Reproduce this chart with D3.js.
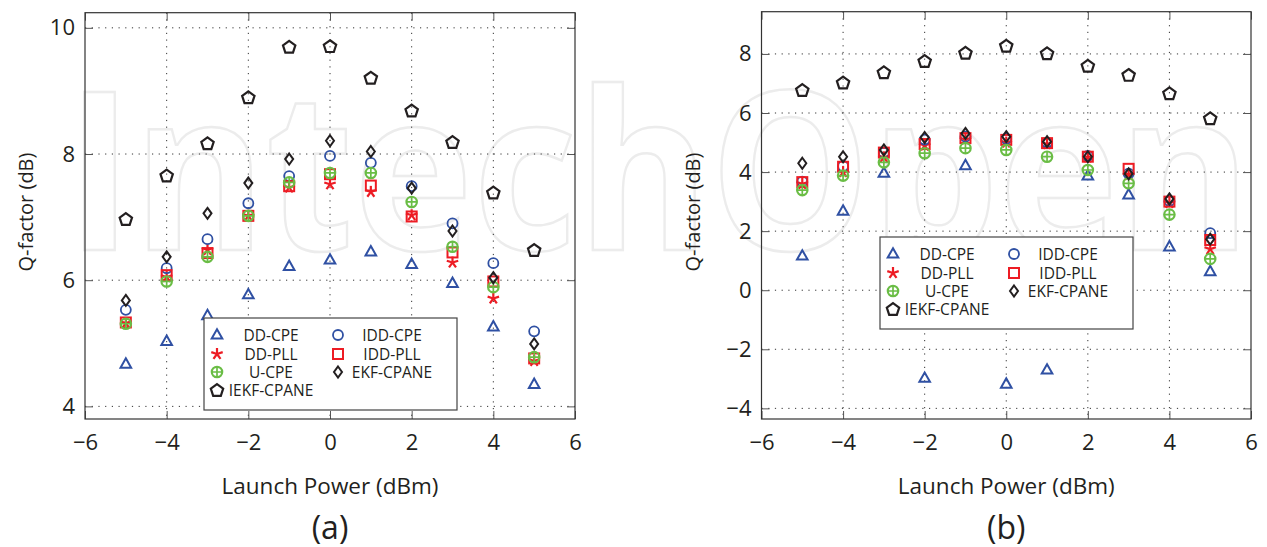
<!DOCTYPE html>
<html>
<head>
<meta charset="utf-8">
<script src="https://cdn.jsdelivr.net/npm/d3@7"></script>
<style>
  body { margin: 0; background: #fff; }
  text { font-family: "Open Sans", sans-serif; fill: #231f20; }
</style>
</head>
<body>
<div id="chart"></div>
<script>
const width = 1267;
const height = 547;

// launch power values (dBm)
const powers = [-5, -4, -3, -2, -1, 0, 1, 2, 3, 4, 5];
const xTicks = [-6, -4, -2, 0, 2, 4, 6];

// panel (a) Q-factor (dB)
const aTicks = [4, 6, 8, 10];
const aDDCPE = [4.67, 5.03, 5.44, 5.77, 6.22, 6.32, 6.45, 6.25, 5.95, 5.26, 4.35];
const aDDPLL = [5.32, 6.05, 6.48, 7.02, 7.47, 7.52, 7.40, 7.03, 6.28, 5.71, 4.72];
const aUCPE = [5.31, 5.98, 6.37, 7.02, 7.55, 7.70, 7.70, 7.24, 6.53, 5.89, 4.78];
const aIDDCPE = [5.53, 6.19, 6.65, 7.22, 7.65, 7.97, 7.86, 7.49, 6.90, 6.27, 5.19];
const aIDDPLL = [5.33, 6.08, 6.43, 7.02, 7.49, 7.68, 7.50, 7.01, 6.44, 5.98, 4.76];
const aEKF = [5.68, 6.37, 7.06, 7.54, 7.92, 8.21, 8.04, 7.46, 6.78, 6.04, 4.99];
const aIEKF = [6.97, 7.66, 8.17, 8.90, 9.70, 9.71, 9.21, 8.69, 8.19, 7.39, 6.48];

// panel (b) Q-factor (dB)
const bTicks = [-4, -2, 0, 2, 4, 6, 8];
const bDDCPE = [1.16, 2.68, 3.96, -2.98, 4.22, -3.18, -2.70, 3.87, 3.23, 1.47, 0.63];
const bDDPLL = [3.60, 4.00, 4.50, 4.90, 5.10, 5.00, 4.95, 4.50, 3.90, 2.95, 1.39];
const bUCPE = [3.39, 3.88, 4.33, 4.64, 4.81, 4.75, 4.52, 4.07, 3.62, 2.56, 1.06];
const bIDDCPE = [3.68, 4.20, 4.65, 5.10, 5.20, 5.12, 5.00, 4.55, 3.95, 3.02, 1.93];
const bIDDPLL = [3.66, 4.18, 4.66, 4.95, 5.15, 5.09, 4.98, 4.52, 4.11, 3.00, 1.70];
const bEKF = [4.30, 4.52, 4.75, 5.17, 5.31, 5.20, 5.03, 4.52, 3.94, 3.09, 1.73];
const bIEKF = [6.78, 7.03, 7.38, 7.76, 8.04, 8.28, 8.02, 7.60, 7.29, 6.67, 5.82];

const blue = "#2f50a3", red = "#ed1c24", green = "#6abd45", black = "#231f20";

const styles = {
  ddcpe: { label: "DD-CPE", shape: "triangle", color: blue },
  ddpll: { label: "DD-PLL", shape: "star", color: red },
  ucpe: { label: "U-CPE", shape: "ocross", color: green },
  iddcpe: { label: "IDD-CPE", shape: "circle", color: blue },
  iddpll: { label: "IDD-PLL", shape: "square", color: red },
  ekf: { label: "EKF-CPANE", shape: "diamond", color: black },
  iekf: { label: "IEKF-CPANE", shape: "pentagon", color: black }
};
const drawOrder = ["ddcpe", "ddpll", "iddcpe", "iddpll", "ucpe", "ekf", "iekf"];
const legendCols = [["ddcpe", "ddpll", "ucpe", "iekf"], ["iddcpe", "iddpll", "ekf"]];

const svg = d3.select("#chart")
  .append("svg")
  .attr("width", width)
  .attr("height", height);

// faint publisher watermark in the background
svg.append("text")
  .attr("x", 66)
  .attr("y", 250)
  .attr("textLength", 1185)
  .attr("lengthAdjust", "spacingAndGlyphs")
  .style("font-size", "221px")
  .style("font-weight", 700)
  .style("fill", "none")
  .style("stroke", "#ececec")
  .style("stroke-width", 2.5)
  .text("IntechOpen");

const closed = d3.line().curve(d3.curveLinearClosed);

function drawMarker(g, shape, color) {
  const sw = 1.8;
  if (shape === "triangle") {
    g.append("path").attr("d", closed([[0, -5.8], [5.3, 3.6], [-5.3, 3.6]]))
      .attr("fill", "none").attr("stroke", color).attr("stroke-width", 2);
  } else if (shape === "circle") {
    g.append("circle").attr("r", 5)
      .attr("fill", "none").attr("stroke", color).attr("stroke-width", sw);
  } else if (shape === "square") {
    g.append("rect").attr("x", -5).attr("y", -5).attr("width", 10).attr("height", 10)
      .attr("fill", "none").attr("stroke", color).attr("stroke-width", 2);
  } else if (shape === "diamond") {
    g.append("path").attr("d", closed([[0, -5.5], [4, 0], [0, 5.5], [-4, 0]]))
      .attr("fill", "none").attr("stroke", color).attr("stroke-width", 2);
  } else if (shape === "pentagon") {
    const pts = d3.range(5).map(i => {
      const a = -Math.PI / 2 + i * 2 * Math.PI / 5;
      return [6.5 * Math.cos(a), 6.5 * Math.sin(a) + 0.6];
    });
    g.append("path").attr("d", closed(pts))
      .attr("fill", "none").attr("stroke", color).attr("stroke-width", 2.2);
  } else if (shape === "star") {
    d3.range(5).forEach(i => {
      const a = -Math.PI / 2 + i * 2 * Math.PI / 5;
      g.append("line").attr("x1", 0).attr("y1", 0)
        .attr("x2", 6 * Math.cos(a)).attr("y2", 6 * Math.sin(a))
        .attr("stroke", color).attr("stroke-width", 2.2);
    });
  } else if (shape === "ocross") {
    g.append("circle").attr("r", 5.2)
      .attr("fill", "none").attr("stroke", color).attr("stroke-width", 2.2);
    g.append("path").attr("d", "M-5,0H5M0,-5V5")
      .attr("stroke", color).attr("stroke-width", 1.7);
  }
}

const fmt = d => d < 0 ? "\u2212" + (-d) : String(d);

function drawPanel(cfg) {
  const x = d3.scaleLinear().domain([-6, 6]).range([cfg.left, cfg.right]);
  const y = d3.scaleLinear().domain(cfg.yDomain).range([cfg.bottom, cfg.top]);
  const g = svg.append("g");

  // dotted grid
  g.append("g").selectAll("line")
    .data(xTicks.slice(1, -1))
    .join("line")
    .attr("x1", d => x(d)).attr("x2", d => x(d))
    .attr("y1", cfg.top).attr("y2", cfg.bottom)
    .attr("stroke", "#333").attr("stroke-width", 1).attr("stroke-dasharray", "1.2,5.5");
  g.append("g").selectAll("line")
    .data(cfg.yTicks)
    .join("line")
    .attr("x1", cfg.left).attr("x2", cfg.right)
    .attr("y1", d => y(d)).attr("y2", d => y(d))
    .attr("stroke", "#333").attr("stroke-width", 1).attr("stroke-dasharray", "1.2,5.5");

  // axes with inward ticks on all four sides
  const styleAxis = sel => {
    sel.select(".domain").remove();
    sel.selectAll(".tick line").attr("stroke", "#555");
    sel.selectAll("text").style("font-size", "22px").style("font-family", "Open Sans").attr("fill", "#231f20");
  };
  g.append("g").attr("transform", `translate(0,${cfg.bottom})`)
    .call(d3.axisBottom(x).tickValues(xTicks).tickFormat(fmt).tickSizeInner(-8).tickSizeOuter(0).tickPadding(15))
    .call(styleAxis);
  g.append("g").attr("transform", `translate(0,${cfg.top})`)
    .call(d3.axisTop(x).tickValues(xTicks).tickFormat("").tickSizeInner(-8).tickSizeOuter(0))
    .call(styleAxis);
  g.append("g").attr("transform", `translate(${cfg.left},0)`)
    .call(d3.axisLeft(y).tickValues(cfg.yTicks).tickFormat(fmt).tickSizeInner(-8).tickSizeOuter(0).tickPadding(10))
    .call(styleAxis);
  g.append("g").attr("transform", `translate(${cfg.right},0)`)
    .call(d3.axisRight(y).tickValues(cfg.yTicks).tickFormat("").tickSizeInner(-8).tickSizeOuter(0))
    .call(styleAxis);

  g.append("rect")
    .attr("x", cfg.left).attr("y", cfg.top)
    .attr("width", cfg.right - cfg.left).attr("height", cfg.bottom - cfg.top)
    .attr("fill", "none").attr("stroke", "#333").attr("stroke-width", 1.2);

  // markers
  drawOrder.forEach(key => {
    const st = styles[key];
    cfg.series[key].forEach((v, i) => {
      const m = g.append("g").attr("transform", `translate(${x(powers[i])},${y(v)})`);
      drawMarker(m, st.shape, st.color);
    });
  });

  // legend
  const lg = g.append("g").attr("transform", `translate(${cfg.legend[0]},${cfg.legend[1]})`);
  lg.append("rect").attr("width", 253).attr("height", 92)
    .attr("fill", "#fff").attr("stroke", "#444").attr("stroke-width", 1.2);
  const rowsY = [17, 36, 54, 72];
  const colMarkX = [13, 134];
  const colTextX = [67, 188];
  legendCols.forEach((col, c) => {
    col.forEach((key, r) => {
      const st = styles[key];
      drawMarker(lg.append("g").attr("transform", `translate(${colMarkX[c]},${rowsY[r]})`), st.shape, st.color);
      lg.append("text")
        .attr("x", colTextX[c]).attr("y", rowsY[r] + 6)
        .attr("text-anchor", "middle")
        .style("font-size", "15.5px")
        .text(st.label);
    });
  });

  // labels
  const cx = (cfg.left + cfg.right) / 2;
  g.append("text")
    .attr("x", cx).attr("y", 494)
    .attr("text-anchor", "middle")
    .style("font-size", "22.5px")
    .text("Launch Power (dBm)");
  g.append("text")
    .attr("transform", `translate(${cfg.yLabelX},212) rotate(-90)`)
    .attr("text-anchor", "middle")
    .style("font-size", "20px")
    .text("Q-factor (dB)");
  g.append("text")
    .attr("x", cx).attr("y", 539)
    .attr("text-anchor", "middle")
    .style("font-size", "32px")
    .text(cfg.title);
}

drawPanel({
  left: 85, right: 575, top: 12.7, bottom: 419,
  yDomain: [3.8, 10.24], yTicks: aTicks,
  series: { ddcpe: aDDCPE, ddpll: aDDPLL, ucpe: aUCPE, iddcpe: aIDDCPE, iddpll: aIDDPLL, ekf: aEKF, iekf: aIEKF },
  legend: [204, 318], yLabelX: 33, title: "(a)"
});

drawPanel({
  left: 761.5, right: 1251, top: 11.7, bottom: 419,
  yDomain: [-4.36, 9.43], yTicks: bTicks,
  series: { ddcpe: bDDCPE, ddpll: bDDPLL, ucpe: bUCPE, iddcpe: bIDDCPE, iddpll: bIDDPLL, ekf: bEKF, iekf: bIEKF },
  legend: [880, 237], yLabelX: 700, title: "(b)"
});
</script>
</body>
</html>
